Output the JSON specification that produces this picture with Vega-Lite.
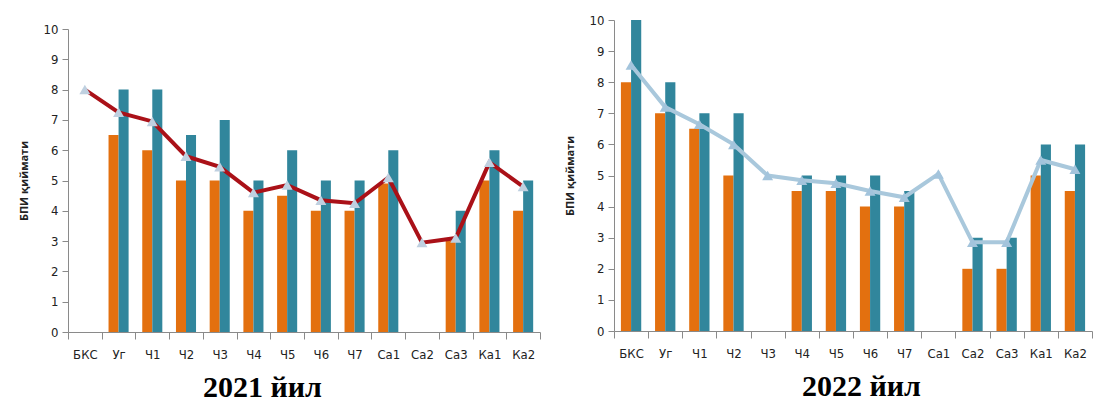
{
  "$schema": "https://vega.github.io/schema/vega-lite/v6.json",
  "padding": {"left": 18, "top": 14, "right": 0, "bottom": 0},
  "background": "white",
  "data": {"name": "d"},
  "datasets": {
    "d": [
      {"year": 2021, "cat": "БКС", "s": "line", "v": 8.0},
      {"year": 2021, "cat": "Уг", "s": "a", "v": 6.5},
      {"year": 2021, "cat": "Уг", "s": "b", "v": 8},
      {"year": 2021, "cat": "Уг", "s": "line", "v": 7.25},
      {"year": 2021, "cat": "Ч1", "s": "a", "v": 6},
      {"year": 2021, "cat": "Ч1", "s": "b", "v": 8},
      {"year": 2021, "cat": "Ч1", "s": "line", "v": 6.95},
      {"year": 2021, "cat": "Ч2", "s": "a", "v": 5},
      {"year": 2021, "cat": "Ч2", "s": "b", "v": 6.5},
      {"year": 2021, "cat": "Ч2", "s": "line", "v": 5.8},
      {"year": 2021, "cat": "Ч3", "s": "a", "v": 5},
      {"year": 2021, "cat": "Ч3", "s": "b", "v": 7},
      {"year": 2021, "cat": "Ч3", "s": "line", "v": 5.45},
      {"year": 2021, "cat": "Ч4", "s": "a", "v": 4},
      {"year": 2021, "cat": "Ч4", "s": "b", "v": 5},
      {"year": 2021, "cat": "Ч4", "s": "line", "v": 4.6},
      {"year": 2021, "cat": "Ч5", "s": "a", "v": 4.5},
      {"year": 2021, "cat": "Ч5", "s": "b", "v": 6},
      {"year": 2021, "cat": "Ч5", "s": "line", "v": 4.85},
      {"year": 2021, "cat": "Ч6", "s": "a", "v": 4},
      {"year": 2021, "cat": "Ч6", "s": "b", "v": 5},
      {"year": 2021, "cat": "Ч6", "s": "line", "v": 4.35},
      {"year": 2021, "cat": "Ч7", "s": "a", "v": 4},
      {"year": 2021, "cat": "Ч7", "s": "b", "v": 5},
      {"year": 2021, "cat": "Ч7", "s": "line", "v": 4.25},
      {"year": 2021, "cat": "Са1", "s": "a", "v": 4.9},
      {"year": 2021, "cat": "Са1", "s": "b", "v": 6},
      {"year": 2021, "cat": "Са1", "s": "line", "v": 5.1},
      {"year": 2021, "cat": "Са2", "s": "line", "v": 2.95},
      {"year": 2021, "cat": "Са3", "s": "a", "v": 3},
      {"year": 2021, "cat": "Са3", "s": "b", "v": 4},
      {"year": 2021, "cat": "Са3", "s": "line", "v": 3.1},
      {"year": 2021, "cat": "Ка1", "s": "a", "v": 5},
      {"year": 2021, "cat": "Ка1", "s": "b", "v": 6},
      {"year": 2021, "cat": "Ка1", "s": "line", "v": 5.6},
      {"year": 2021, "cat": "Ка2", "s": "a", "v": 4},
      {"year": 2021, "cat": "Ка2", "s": "b", "v": 5},
      {"year": 2021, "cat": "Ка2", "s": "line", "v": 4.8},
      {"year": 2022, "cat": "БКС", "s": "a", "v": 8},
      {"year": 2022, "cat": "БКС", "s": "b", "v": 10},
      {"year": 2022, "cat": "БКС", "s": "line", "v": 8.55},
      {"year": 2022, "cat": "Уг", "s": "a", "v": 7},
      {"year": 2022, "cat": "Уг", "s": "b", "v": 8},
      {"year": 2022, "cat": "Уг", "s": "line", "v": 7.2},
      {"year": 2022, "cat": "Ч1", "s": "a", "v": 6.5},
      {"year": 2022, "cat": "Ч1", "s": "b", "v": 7},
      {"year": 2022, "cat": "Ч1", "s": "line", "v": 6.65},
      {"year": 2022, "cat": "Ч2", "s": "a", "v": 5},
      {"year": 2022, "cat": "Ч2", "s": "b", "v": 7},
      {"year": 2022, "cat": "Ч2", "s": "line", "v": 6.0},
      {"year": 2022, "cat": "Ч3", "s": "line", "v": 5.0},
      {"year": 2022, "cat": "Ч4", "s": "a", "v": 4.5},
      {"year": 2022, "cat": "Ч4", "s": "b", "v": 5},
      {"year": 2022, "cat": "Ч4", "s": "line", "v": 4.85},
      {"year": 2022, "cat": "Ч5", "s": "a", "v": 4.5},
      {"year": 2022, "cat": "Ч5", "s": "b", "v": 5},
      {"year": 2022, "cat": "Ч5", "s": "line", "v": 4.75},
      {"year": 2022, "cat": "Ч6", "s": "a", "v": 4},
      {"year": 2022, "cat": "Ч6", "s": "b", "v": 5},
      {"year": 2022, "cat": "Ч6", "s": "line", "v": 4.5},
      {"year": 2022, "cat": "Ч7", "s": "a", "v": 4},
      {"year": 2022, "cat": "Ч7", "s": "b", "v": 4.5},
      {"year": 2022, "cat": "Ч7", "s": "line", "v": 4.3},
      {"year": 2022, "cat": "Са1", "s": "line", "v": 5.05},
      {"year": 2022, "cat": "Са2", "s": "a", "v": 2},
      {"year": 2022, "cat": "Са2", "s": "b", "v": 3},
      {"year": 2022, "cat": "Са2", "s": "line", "v": 2.85},
      {"year": 2022, "cat": "Са3", "s": "a", "v": 2},
      {"year": 2022, "cat": "Са3", "s": "b", "v": 3},
      {"year": 2022, "cat": "Са3", "s": "line", "v": 2.85},
      {"year": 2022, "cat": "Ка1", "s": "a", "v": 5},
      {"year": 2022, "cat": "Ка1", "s": "b", "v": 6},
      {"year": 2022, "cat": "Ка1", "s": "line", "v": 5.5},
      {"year": 2022, "cat": "Ка2", "s": "a", "v": 4.5},
      {"year": 2022, "cat": "Ка2", "s": "b", "v": 6},
      {"year": 2022, "cat": "Ка2", "s": "line", "v": 5.2}
    ]
  },
  "config": {
    "view": {"stroke": null},
    "font": "DejaVu Sans Condensed",
    "axis": {
      "domainColor": "#8a8a8a",
      "tickColor": "#8a8a8a",
      "labelColor": "#222222",
      "labelFont": "DejaVu Sans Condensed",
      "labelFontSize": 13,
      "grid": false
    },
    "axisX": {
      "tickBand": "extent",
      "tickSize": 7,
      "labelPadding": 9,
      "labelAngle": 0,
      "titleFont": "Liberation Serif",
      "titleFontSize": 30,
      "titleFontWeight": "bold",
      "titleColor": "#000000",
      "titlePadding": 11
    },
    "axisY": {
      "tickSize": 6,
      "labelPadding": 4,
      "titleFont": "Open Sans",
      "titleFontSize": 11,
      "titleFontWeight": "bold",
      "titleColor": "#222222",
      "titlePadding": 14,
      "values": [0, 1, 2, 3, 4, 5, 6, 7, 8, 9, 10]
    }
  },
  "spacing": 23,
  "hconcat": [
    {
      "width": 472,
      "height": 312,
      "transform": [{"filter": "datum.year == 2021"}],
      "encoding": {
        "x": {
          "field": "cat",
          "type": "nominal",
          "sort": ["БКС", "Уг", "Ч1", "Ч2", "Ч3", "Ч4", "Ч5", "Ч6", "Ч7", "Са1", "Са2", "Са3", "Ка1", "Ка2"],
          "scale": {"domain": ["БКС", "Уг", "Ч1", "Ч2", "Ч3", "Ч4", "Ч5", "Ч6", "Ч7", "Са1", "Са2", "Са3", "Ка1", "Ка2"], "paddingInner": 0, "paddingOuter": 0},
          "axis": {"title": "2021 йил", "titleX": 194, "titleAlign": "center"}
        },
        "y": {
          "field": "v",
          "type": "quantitative",
          "scale": {"domain": [0, 10], "nice": false, "range": [312, 9]},
          "axis": {"title": "БПИ қиймати"}
        }
      },
      "layer": [
        {
          "transform": [{"filter": "datum.s != 'line'"}],
          "mark": {"type": "bar"},
          "encoding": {
            "xOffset": {"field": "s", "type": "nominal", "scale": {"domain": ["a", "b"], "paddingInner": 0, "paddingOuter": 0.68}},
            "color": {"field": "s", "type": "nominal", "scale": {"domain": ["a", "b"], "range": ["#E3700F", "#31869C"]}, "legend": null}
          }
        },
        {
          "transform": [{"filter": "datum.s == 'line'"}],
          "mark": {"type": "line", "color": "#AA1118", "strokeWidth": 4}
        },
        {
          "transform": [{"filter": "datum.s == 'line'"}],
          "mark": {"type": "point", "shape": "triangle-up", "filled": true, "color": "#BFD0E0", "size": 120, "opacity": 1}
        }
      ]
    },
    {
      "width": 478,
      "height": 311,
      "transform": [{"filter": "datum.year == 2022"}],
      "encoding": {
        "x": {
          "field": "cat",
          "type": "nominal",
          "sort": ["БКС", "Уг", "Ч1", "Ч2", "Ч3", "Ч4", "Ч5", "Ч6", "Ч7", "Са1", "Са2", "Са3", "Ка1", "Ка2"],
          "scale": {"domain": ["БКС", "Уг", "Ч1", "Ч2", "Ч3", "Ч4", "Ч5", "Ч6", "Ч7", "Са1", "Са2", "Са3", "Ка1", "Ка2"], "paddingInner": 0, "paddingOuter": 0},
          "axis": {"title": "2022 йил", "titleX": 247, "titleAlign": "center"}
        },
        "y": {
          "field": "v",
          "type": "quantitative",
          "scale": {"domain": [0, 10], "nice": false},
          "axis": {"title": "БПИ қиймати"}
        }
      },
      "layer": [
        {
          "transform": [{"filter": "datum.s != 'line'"}],
          "mark": {"type": "bar"},
          "encoding": {
            "xOffset": {"field": "s", "type": "nominal", "scale": {"domain": ["a", "b"], "paddingInner": 0, "paddingOuter": 0.68}},
            "color": {"field": "s", "type": "nominal", "scale": {"domain": ["a", "b"], "range": ["#E3700F", "#31869C"]}, "legend": null}
          }
        },
        {
          "transform": [{"filter": "datum.s == 'line'"}],
          "mark": {"type": "line", "color": "#A9C8DC", "strokeWidth": 4}
        },
        {
          "transform": [{"filter": "datum.s == 'line'"}],
          "mark": {"type": "point", "shape": "triangle-up", "filled": true, "color": "#A3C4DC", "size": 120, "opacity": 1}
        }
      ]
    }
  ],
  "resolve": {"scale": {"color": "independent", "xOffset": "independent"}}
}
